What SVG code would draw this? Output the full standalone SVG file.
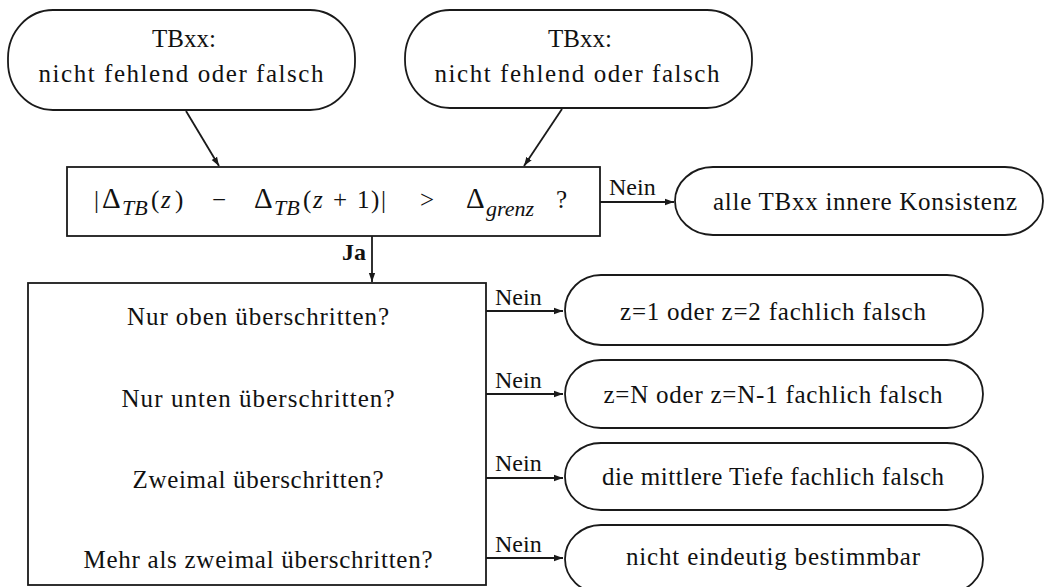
<svg xmlns="http://www.w3.org/2000/svg" width="1045" height="587" viewBox="0 0 1045 587">
<style>
.shape{fill:#fff;stroke:#1a1a1a;stroke-width:1.8}
.t{font-family:"Liberation Serif","Times New Roman",serif;font-size:25px;fill:#111}
.c{text-anchor:middle}
.i{font-style:italic}
.d{font-size:29px}
.sub{font-family:"Liberation Serif","Times New Roman",serif;font-size:22px;font-style:italic;fill:#111}
.lbl{font-family:"Liberation Serif","Times New Roman",serif;font-size:24px;fill:#111}
.edge{fill:none;stroke:#1a1a1a;stroke-width:1.8}
</style>
<defs>
<marker id="ah" viewBox="0 0 10 10" refX="10" refY="5" markerWidth="9" markerHeight="9" markerUnits="userSpaceOnUse" orient="auto">
<path d="M0,1.5 L10,5 L0,8.5 Z" fill="#1a1a1a"/>
</marker>
</defs>
<rect width="1045" height="587" fill="#fff"/>

<g id="connectors">
<line class="edge" x1="186" y1="111" x2="219" y2="166" marker-end="url(#ah)"/>
<line class="edge" x1="562" y1="109" x2="524" y2="166" marker-end="url(#ah)"/>
<line class="edge" x1="600" y1="202" x2="674" y2="202" marker-end="url(#ah)"/>
<text class="lbl" x="609" y="195">Nein</text>
<line class="edge" x1="372" y1="236" x2="372" y2="282" marker-end="url(#ah)"/>
<text class="lbl" x="342" y="260" font-weight="bold" font-size="22">Ja</text>
<line class="edge" x1="486" y1="311" x2="563" y2="311" marker-end="url(#ah)"/>
<text class="lbl" x="495" y="305">Nein</text>
<line class="edge" x1="486" y1="394" x2="563" y2="394" marker-end="url(#ah)"/>
<text class="lbl" x="495" y="388">Nein</text>
<line class="edge" x1="486" y1="478" x2="563" y2="478" marker-end="url(#ah)"/>
<text class="lbl" x="495" y="471">Nein</text>
<line class="edge" x1="486" y1="558" x2="563" y2="558" marker-end="url(#ah)"/>
<text class="lbl" x="495" y="552">Nein</text>
</g>

<g id="start-left">
<rect class="shape" x="8" y="10" width="347" height="100" rx="45" ry="48"/>
<text class="t c" x="184" y="47">TBxx:</text>
<text class="t c" x="181" y="82" textLength="285" lengthAdjust="spacing">nicht fehlend oder falsch</text>
</g>

<g id="start-right">
<rect class="shape" x="405" y="10" width="347" height="98" rx="45" ry="48"/>
<text class="t c" x="580" y="47">TBxx:</text>
<text class="t c" x="577" y="82" textLength="285" lengthAdjust="spacing">nicht fehlend oder falsch</text>
</g>

<g id="decision">
<rect class="shape" x="67" y="167" width="533" height="69"/>
<text class="t" y="208"><tspan x="94">|</tspan><tspan class="d" x="102">Δ</tspan></text>
<text class="sub" x="122" y="215">TB</text>
<text class="t" y="208"><tspan x="151">(</tspan><tspan class="i" x="161">z</tspan><tspan x="175">)</tspan><tspan x="212">−</tspan><tspan class="d" x="254">Δ</tspan></text>
<text class="sub" x="274" y="215">TB</text>
<text class="t" y="208"><tspan x="303">(</tspan><tspan class="i" x="313">z</tspan><tspan x="333">+</tspan><tspan x="357">1</tspan><tspan x="371">)</tspan><tspan x="381">|</tspan><tspan x="420">&gt;</tspan><tspan class="d" x="466">Δ</tspan></text>
<text class="sub" x="486" y="216">grenz</text>
<text class="t" x="556" y="208">?</text>
</g>

<g id="result-consistent">
<rect class="shape" x="675" y="167" width="368" height="68" rx="38" ry="34"/>
<text class="t c" x="865" y="210" textLength="304" lengthAdjust="spacing">alle TBxx innere Konsistenz</text>
</g>

<g id="checks">
<rect class="shape" x="28" y="283" width="458" height="302"/>
<text class="t c" x="258" y="325" textLength="262" lengthAdjust="spacing">Nur oben überschritten?</text>
<text class="t c" x="258" y="407" textLength="273" lengthAdjust="spacing">Nur unten überschritten?</text>
<text class="t c" x="258" y="488" textLength="251" lengthAdjust="spacing">Zweimal überschritten?</text>
<text class="t c" x="258" y="568" textLength="349" lengthAdjust="spacing">Mehr als zweimal überschritten?</text>
</g>

<g id="result-1">
<rect class="shape" x="565" y="275" width="418" height="70" rx="36" ry="35"/>
<text class="t c" x="773" y="320" textLength="306" lengthAdjust="spacing">z=1 oder z=2 fachlich falsch</text>
</g>
<g id="result-2">
<rect class="shape" x="565" y="360" width="418" height="68" rx="36" ry="34"/>
<text class="t c" x="773" y="403" textLength="339" lengthAdjust="spacing">z=N oder z=N-1 fachlich falsch</text>
</g>
<g id="result-3">
<rect class="shape" x="565" y="443" width="418" height="67" rx="36" ry="33"/>
<text class="t c" x="773" y="485" textLength="342" lengthAdjust="spacing">die mittlere Tiefe fachlich falsch</text>
</g>
<g id="result-4">
<rect class="shape" x="565" y="525" width="418" height="68" rx="36" ry="34"/>
<text class="t c" x="773" y="565" textLength="294" lengthAdjust="spacing">nicht eindeutig bestimmbar</text>
</g>
</svg>
